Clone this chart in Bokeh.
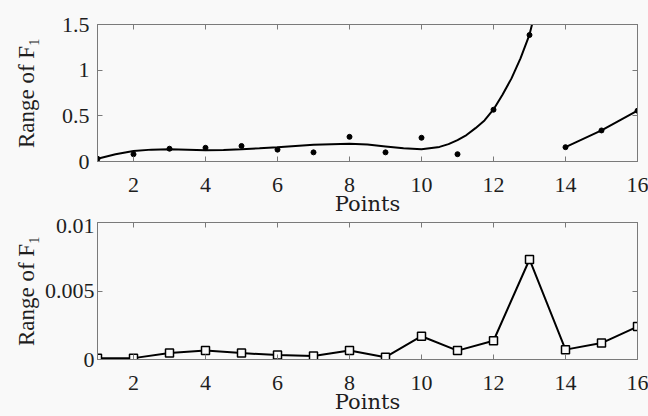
from bokeh.plotting import figure
from bokeh.models import FixedTicker, LinearAxis, Range1d
from bokeh.layouts import column
from bokeh.embed import file_html
from bokeh.resources import INLINE

# ---- data ----
points = [1, 2, 3, 4, 5, 6, 7, 8, 9, 10, 11, 12, 13, 14, 15, 16]
top_values = [0.03, 0.08, 0.14, 0.15, 0.17, 0.13, 0.10, 0.27, 0.10, 0.26, 0.08, 0.567, 1.385, 0.157, 0.34, 0.556]
fit_x = [1.0, 1.5, 2.0, 2.5, 3.0, 3.5, 4.0, 4.5, 5.0, 5.5, 6.0, 6.5, 7.0, 7.5, 8.0, 8.5, 9.0, 9.5,
         10.0, 10.5, 10.75, 11.0, 11.25, 11.5, 11.75, 12.0, 12.25, 12.5, 12.75, 13.0, 13.07]
fit_y = [0.03, 0.08, 0.115, 0.13, 0.134, 0.13, 0.123, 0.126, 0.134, 0.145, 0.157, 0.17, 0.183, 0.19,
         0.194, 0.185, 0.165, 0.145, 0.134, 0.16, 0.19, 0.235, 0.29, 0.365, 0.45, 0.57, 0.73, 0.91,
         1.13, 1.39, 1.5]
tail_x = [14, 15, 16]
tail_y = [0.157, 0.34, 0.556]
bottom_values = [0.0001, 0.0001, 0.00047, 0.00065, 0.00047, 0.00032, 0.00025, 0.00065, 0.00017,
                 0.0017, 0.00065, 0.00137, 0.0073, 0.00072, 0.0012, 0.0024]
x_ticks = [2, 4, 6, 8, 10, 12, 14, 16]
top_y_ticks = [0, 0.5, 1, 1.5]
top_y_labels = ["0", "0.5", "1", "1.5"]
bot_y_ticks = [0, 0.005, 0.01]
bot_y_labels = ["0", "0.005", "0.01"]
y_label = "Range of F\u2081"
x_label = "Points"

BG = "#f9f9f9"
AX = "#7a7a7a"
TXT = "#1e1e1e"
SERIF = "Liberation Serif"

FRAME_W = 540
FRAME_H = 134
H1 = 221            # expected height of upper panel


def make_fig(y0, y1, top_border, yticks, ylabels, standoff, ylab_standoff):
    p = figure(frame_width=FRAME_W, frame_height=FRAME_H, output_backend="svg",
               toolbar_location=None,
               x_range=Range1d(1, 16), y_range=Range1d(y0, y1),
               min_border_left=97, min_border_right=11,
               min_border_top=top_border, min_border_bottom=0,
               background_fill_color=BG, border_fill_color=BG,
               outline_line_color=AX, outline_line_width=1)
    p.grid.visible = False
    p.xaxis.ticker = FixedTicker(ticks=x_ticks)
    p.yaxis.ticker = FixedTicker(ticks=yticks)
    p.yaxis.major_label_overrides = {t: l for t, l in zip(yticks, ylabels)}
    for ax in (p.xaxis[0], p.yaxis[0]):
        ax.axis_line_color = AX
        ax.major_tick_line_color = AX
        ax.major_tick_in = 5
        ax.major_tick_out = 0
        ax.minor_tick_line_color = None
        ax.major_label_text_font = SERIF
        ax.major_label_text_font_size = "22px"
        ax.major_label_text_color = TXT
    p.xaxis.major_label_standoff = 16
    p.yaxis.major_label_standoff = standoff
    p.xaxis.axis_label = x_label
    p.xaxis.axis_label_text_font = "DejaVu Serif"
    p.xaxis.axis_label_text_font_style = "normal"
    p.xaxis.axis_label_text_font_size = "21px"
    p.xaxis.axis_label_text_color = TXT
    p.xaxis.axis_label_standoff = -3
    p.yaxis.axis_label = y_label
    p.yaxis.axis_label_text_font = SERIF
    p.yaxis.axis_label_text_font_style = "normal"
    p.yaxis.axis_label_text_font_size = "23px"
    p.yaxis.axis_label_text_color = TXT
    p.yaxis.axis_label_standoff = ylab_standoff
    # mirrored tick axes (top, right) without labels
    for ticks, place in ((x_ticks, "above"), (yticks, "right")):
        ax = LinearAxis(ticker=FixedTicker(ticks=ticks),
                        major_label_overrides={t: "" for t in ticks},
                        major_label_text_font_size="1px",
                        axis_line_color=AX, major_tick_line_color=AX, major_tick_in=5,
                        major_tick_out=0, minor_tick_line_color=None, major_label_standoff=0)
        p.add_layout(ax, place)
    return p


# ---- top panel ----
p1 = make_fig(0, 1.5, 24, top_y_ticks, top_y_labels, 8, 20)
p1.line(fit_x, fit_y, line_color="black", line_width=2)
p1.line(tail_x, tail_y, line_color="black", line_width=2)
p1.scatter(points, top_values, marker="circle", size=5, fill_color="black", line_color="black")

# ---- bottom panel ----
p2 = make_fig(0, 0.01, 225 - H1, bot_y_ticks, bot_y_labels, 3, 3)
p2.line(points, bottom_values, line_color="black", line_width=2)
p2.scatter(points, bottom_values, marker="square", size=8, fill_color=BG, line_color="black",
           line_width=1.5)

layout = column(p1, p2, spacing=0, width=648, height=416,
                styles={"background-color": BG, "overflow": "hidden"})
open("out.html", "w").write(file_html(layout, INLINE))
